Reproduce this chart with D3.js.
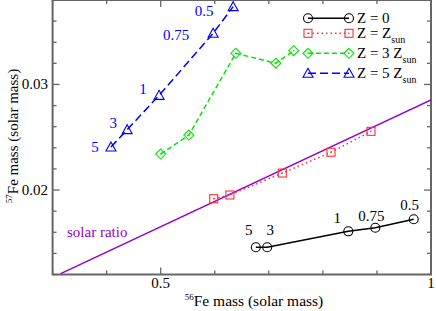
<!DOCTYPE html>
<html>
<head>
<meta charset="utf-8">
<script src="https://cdn.jsdelivr.net/npm/d3@7"></script>
<style>
  body { margin: 0; background: #fff; }
</style>
</head>
<body>
<svg id="chart"></svg>
<script>
// data
const labels = ["5", "3", "1", "0.75", "0.5"];

const z0X = [0.676, 0.697, 0.847, 0.897, 0.968];
const z0Y = [0.01458, 0.01458, 0.01609, 0.01643, 0.01723];

const zSunX = [0.598, 0.628, 0.725, 0.815, 0.889];
const zSunY = [0.01918, 0.01953, 0.02161, 0.02358, 0.02556];

const z3X = [0.500, 0.552, 0.639, 0.713, 0.746];
const z3Y = [0.02341, 0.02521, 0.03295, 0.03201, 0.03320];

const z5X = [0.408, 0.438, 0.497, 0.597, 0.634];
const z5Y = [0.02408, 0.02572, 0.02897, 0.03485, 0.03737];

const solarX = [0.315, 1.0];
const solarY = [0.01208, 0.02853];

const xTicks = [0.5, 1];
const yTicks = [0.02, 0.03];

const serif = "Liberation Serif, Times New Roman, serif";

let width = 436;
let height = 311;
let svg = d3.select("svg").attr("width", width).attr("height", height)
  .attr("font-family", serif);

let x = d3.scaleLinear().domain([0.3, 1.0]).range([52.6, 431]);
let y = d3.scaleLinear().domain([0.012, 0.038]).range([274.5, 0]);

const pLeft = x.range()[0], pRight = x.range()[1];
const pTop = y.range()[1], pBottom = y.range()[0];

// frame + ticks on all four sides
let frame = svg.append("g");
let xMinor = d3.range(0.3, 1.0001, 0.1).map(d => +d.toFixed(2));
let yMinor = d3.range(0.012, 0.0381, 0.002).map(d => +d.toFixed(3));

xMinor.forEach(d => {
  let len = xTicks.includes(d) ? 7 : 4;
  frame.append("line").attr("x1", x(d)).attr("x2", x(d))
    .attr("y1", pBottom).attr("y2", pBottom - len);
  frame.append("line").attr("x1", x(d)).attr("x2", x(d))
    .attr("y1", pTop).attr("y2", pTop + len);
});
yMinor.forEach(d => {
  let len = yTicks.some(t => Math.abs(t - d) < 1e-6) ? 7 : 4;
  frame.append("line").attr("x1", pLeft).attr("x2", pLeft + len)
    .attr("y1", y(d)).attr("y2", y(d));
  frame.append("line").attr("x1", pRight).attr("x2", pRight - len)
    .attr("y1", y(d)).attr("y2", y(d));
});
frame.selectAll("line").attr("stroke", "#666").attr("stroke-width", 1.3);
frame.append("rect")
  .attr("x", pLeft).attr("y", pTop)
  .attr("width", pRight - pLeft).attr("height", pBottom - pTop)
  .attr("fill", "none").attr("stroke", "#666").attr("stroke-width", 2);

// tick labels
svg.append("g").selectAll("text").data(xTicks).enter().append("text")
  .attr("x", d => x(d)).attr("y", 288)
  .attr("text-anchor", "middle").attr("font-size", 15)
  .attr("font-family", serif)
  .text(d => d);
svg.append("g").selectAll("text").data(yTicks).enter().append("text")
  .attr("x", 48).attr("y", d => y(d) + 5)
  .attr("text-anchor", "end").attr("font-size", 15)
  .attr("font-family", serif)
  .text(d => d);

// axis titles
let xl = svg.append("text").attr("x", 254).attr("y", 306)
  .attr("text-anchor", "middle").attr("font-size", 15.5).attr("font-family", serif);
xl.append("tspan").attr("font-size", 9).attr("dy", -6).text("56");
xl.append("tspan").attr("dy", 6).text("Fe mass (solar mass)");

let yl = svg.append("text").attr("transform", "translate(18,136) rotate(-90)")
  .attr("text-anchor", "middle").attr("font-size", 15).attr("font-family", serif);
yl.append("tspan").attr("font-size", 9).attr("dy", -6).text("57");
yl.append("tspan").attr("dy", 6).text("Fe mass (solar mass)");

// solar ratio line
svg.append("clipPath").attr("id", "clip").append("rect")
  .attr("x", pLeft).attr("y", pTop).attr("width", pRight - pLeft).attr("height", pBottom - pTop);
svg.append("line")
  .attr("clip-path", "url(#clip)")
  .attr("x1", x(solarX[0])).attr("y1", y(solarY[0]))
  .attr("x2", x(solarX[1])).attr("y2", y(solarY[1]))
  .attr("stroke", "#9400d3").attr("stroke-width", 1.5);
svg.append("text").attr("x", 67).attr("y", 237)
  .attr("font-size", 15).attr("fill", "#9400d3").attr("font-family", serif).text("solar ratio");

// series
const series = [
  { xs: z0X, ys: z0Y, color: "#000", dash: null, shape: "circle" },
  { xs: zSunX, ys: zSunY, color: "#ff3030", dash: "1.5,3", shape: "square" },
  { xs: z3X, ys: z3Y, color: "#00e600", dash: "5,3", shape: "diamond" },
  { xs: z5X, ys: z5Y, color: "#0000ff", dash: "8,4", shape: "triangle" },
];

function marker(g, shape, cx, cy, color) {
  if (shape === "circle") {
    g.append("circle").attr("cx", cx).attr("cy", cy).attr("r", 4.5)
      .attr("fill", "none").attr("stroke", color).attr("stroke-width", 1.1);
  } else if (shape === "square") {
    g.append("rect").attr("x", cx - 4).attr("y", cy - 4).attr("width", 8).attr("height", 8)
      .attr("fill", "none").attr("stroke", color).attr("stroke-width", 1.1);
    g.append("rect").attr("x", cx - 0.6).attr("y", cy - 0.6).attr("width", 1.2).attr("height", 1.2)
      .attr("fill", color);
  } else if (shape === "diamond") {
    g.append("path").attr("d", `M${cx},${cy - 5}L${cx + 5},${cy}L${cx},${cy + 5}L${cx - 5},${cy}Z`)
      .attr("fill", "none").attr("stroke", color).attr("stroke-width", 1.1);
    g.append("rect").attr("x", cx - 0.6).attr("y", cy - 0.6).attr("width", 1.2).attr("height", 1.2)
      .attr("fill", color);
  } else {
    g.append("path").attr("d", `M${cx},${cy - 5}L${cx + 5},${cy + 4}L${cx - 5},${cy + 4}Z`)
      .attr("fill", "none").attr("stroke", color).attr("stroke-width", 1.1);
  }
}

let line = d3.line().x(d => x(d[0])).y(d => y(d[1]));
series.forEach(s => {
  let pts = s.xs.map((v, i) => [v, s.ys[i]]);
  let g = svg.append("g");
  g.append("path").datum(pts).attr("d", line)
    .attr("fill", "none").attr("stroke", s.color)
    .attr("stroke-width", 1.5)
    .attr("stroke-dasharray", s.dash);
  pts.forEach(p => marker(g, s.shape, x(p[0]), y(p[1]), s.color));
});

// point labels (offsets from the marker, in px)
const z0Off = [[-7, -12], [3, -12], [-11, -8], [-4, -7], [-4, -9]];
const z5Off = [[-16, 5], [-14, -2], [-16, -1], [-37, 7], [-29, 9]];
svg.append("g").selectAll("text").data(labels).enter().append("text")
  .attr("x", (d, i) => x(z0X[i]) + z0Off[i][0])
  .attr("y", (d, i) => y(z0Y[i]) + z0Off[i][1])
  .attr("text-anchor", "middle").attr("font-size", 15)
  .attr("font-family", serif).text(d => d);
svg.append("g").selectAll("text").data(labels).enter().append("text")
  .attr("x", (d, i) => x(z5X[i]) + z5Off[i][0])
  .attr("y", (d, i) => y(z5Y[i]) + z5Off[i][1])
  .attr("text-anchor", "middle").attr("font-size", 15).attr("fill", "#0000ff")
  .attr("font-family", serif).text(d => d);

// legend
const legendY = [18.3, 33.3, 53.3, 73.3];
const legendText = [["Z = 0", ""], ["Z = Z", "sun"], ["Z = 3 Z", "sun"], ["Z = 5 Z", "sun"]];
series.forEach((s, i) => {
  let g = svg.append("g");
  let ly = legendY[i];
  g.append("line").attr("x1", 308).attr("x2", 349).attr("y1", ly).attr("y2", ly)
    .attr("stroke", s.color).attr("stroke-width", 1.5).attr("stroke-dasharray", s.dash);
  marker(g, s.shape, 308, ly, s.color);
  marker(g, s.shape, 349, ly, s.color);
  let t = g.append("text").attr("x", 357).attr("y", ly + 5).attr("font-size", 15)
    .attr("font-family", serif);
  t.append("tspan").text(legendText[i][0]);
  if (legendText[i][1]) t.append("tspan").attr("font-size", 10).attr("dy", 5).text(legendText[i][1]);
});
</script>
</body>
</html>
